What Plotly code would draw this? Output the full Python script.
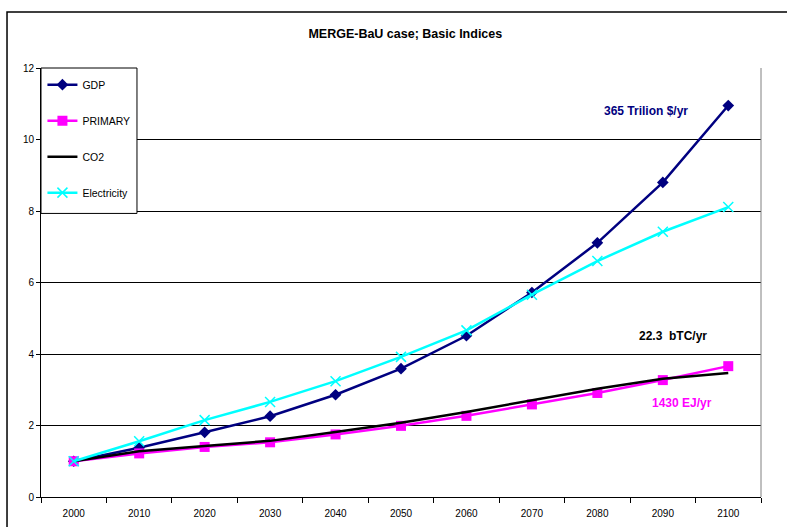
import plotly.graph_objects as go

years = [2000, 2010, 2020, 2030, 2040, 2050, 2060, 2070, 2080, 2090, 2100]
year_labels = ["2000", "2010", "2020", "2030", "2040", "2050", "2060", "2070", "2080", "2090", "2100"]
gdp = [1.0, 1.38, 1.81, 2.26, 2.86, 3.59, 4.51, 5.72, 7.11, 8.80, 10.95]
primary = [1.0, 1.22, 1.40, 1.53, 1.75, 1.99, 2.27, 2.59, 2.91, 3.27, 3.66]
co2 = [1.0, 1.28, 1.43, 1.57, 1.82, 2.08, 2.38, 2.71, 3.03, 3.31, 3.47]
electricity = [1.0, 1.56, 2.15, 2.66, 3.24, 3.92, 4.66, 5.66, 6.60, 7.42, 8.11]
y_ticks = [0, 2, 4, 6, 8, 10, 12]

NARROW = "Liberation Sans Narrow, Arial Narrow, sans-serif"
SANS = "Liberation Sans, Arial, sans-serif"

# tick marks sit on the boundaries between the decades
boundaries = [y - 5 for y in years] + [years[-1] + 5]

fig = go.Figure()
fig.add_trace(go.Scatter(
    x=years, y=gdp, name="GDP", mode="lines+markers", legendgroup="a",
    line=dict(color="#000080", width=2.5),
    marker=dict(symbol="diamond", size=9, color="#000080"),
))
fig.add_trace(go.Scatter(
    x=years, y=primary, name="PRIMARY", mode="lines+markers", legendgroup="b",
    line=dict(color="#FF00FF", width=2.5),
    marker=dict(symbol="square", size=10, color="#FF00FF"),
))
fig.add_trace(go.Scatter(
    x=years, y=co2, name="CO2", mode="lines", legendgroup="c",
    line=dict(color="#000000", width=2.5),
))
fig.add_trace(go.Scatter(
    x=years, y=electricity, name="Electricity", mode="lines+markers", legendgroup="d",
    line=dict(color="#00FFFF", width=2.5),
    marker=dict(symbol="x-thin", size=10, color="#00FFFF",
                line=dict(color="#00FFFF", width=1.5)),
))

# value labels next to the end of each series
fig.add_annotation(x=2090, y=gdp[-1] - 0.15, xref="x", yref="y", xshift=-17,
                   text="<b>365 Trilion $/yr</b>", showarrow=False,
                   font=dict(family=SANS, size=12, color="#000080"))
fig.add_annotation(x=2090, y=co2[-1] + 1.03, xref="x", yref="y", xshift=10,
                   text="<b>22.3  bTC/yr</b>", showarrow=False,
                   font=dict(family=SANS, size=12, color="#000000"))
fig.add_annotation(x=2090, y=primary[-1] - 1.03, xref="x", yref="y", xshift=19,
                   text="<b>1430 EJ/yr</b>", showarrow=False,
                   font=dict(family=SANS, size=12, color="#FF00FF"))

# chart-area frame around title and plot
fig.add_shape(type="rect", xref="paper", yref="paper",
              x0=-0.0472, x1=1.2, y0=-0.2, y1=1.1305,
              line=dict(color="#000000", width=1.5), layer="below")
# right border of the plot area
fig.add_shape(type="line", xref="paper", yref="paper",
              x0=1, x1=1, y0=0, y1=1, line=dict(color="#808080", width=1))
# legend box (white panel with black border behind the legend entries)
fig.add_shape(type="rect", xref="paper", yref="paper",
              x0=0, x1=0.1333, y0=0.661, y1=1,
              fillcolor="white", line=dict(color="#000000", width=1), layer="above")

fig.update_layout(
    width=787, height=527,
    margin=dict(l=41, r=26, t=68, b=30, autoexpand=False),
    paper_bgcolor="white", plot_bgcolor="white",
    title=dict(text="<b>MERGE-BaU case; Basic Indices</b>", x=0.515, xanchor="center",
               y=0.937, yanchor="middle",
               font=dict(family=NARROW, size=12.5, color="#000000")),
    font=dict(family=NARROW, size=10, color="#000000"),
    showlegend=True,
    legend=dict(x=0.002, y=0.995, xanchor="left", yanchor="top",
                bgcolor="rgba(0,0,0,0)", borderwidth=0,
                font=dict(family=SANS, size=10.5, color="#000000"),
                traceorder="grouped", tracegroupgap=17,
                itemwidth=30),
    xaxis=dict(range=[1995, 2105], tickvals=years, ticktext=year_labels,
               ticks="", tickangle=0, showline=True, linecolor="#000000", linewidth=1,
               showgrid=False, zeroline=False, automargin=False,
               ticklabelstandoff=7,
               tickfont=dict(family=NARROW, size=10),
               minor=dict(tickvals=boundaries, ticks="outside", ticklen=5,
                          tickcolor="#000000", showgrid=False)),
    yaxis=dict(range=[0, 12], tickvals=y_ticks, ticks="outside", ticklen=4,
               tickcolor="#000000", showline=True, linecolor="#000000", linewidth=1,
               showgrid=True, gridcolor="#000000", gridwidth=1, zeroline=False,
               automargin=False, tickfont=dict(family=NARROW, size=10)),
)

fig.write_html("out.html")
